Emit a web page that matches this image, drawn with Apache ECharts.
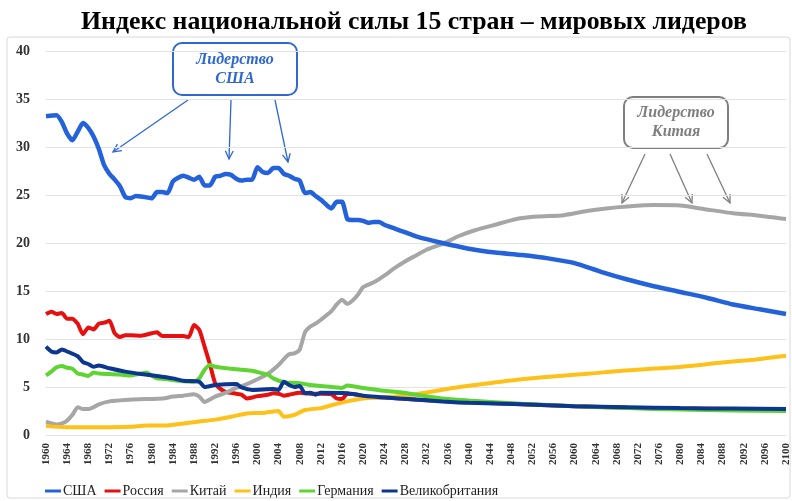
<!DOCTYPE html>
<html>
<head>
<meta charset="utf-8">
<script src="https://cdn.jsdelivr.net/npm/echarts@6/dist/echarts.min.js"></script>
<style>
  html, body { margin: 0; padding: 0; background: #fff; }
  #chart { width: 792px; height: 501px; }
</style>
</head>
<body>
<div id="chart"></div>
<script>
// данные: [год, индекс]
const usa = [[1960,33.2],[1962,33.3],[1963,32.6],[1964,31.4],[1965,30.7],[1966,31.6],[1967,32.5],[1968,32.0],[1969,31.1],[1970,29.8],[1971,28.1],[1972,27.2],[1973,26.6],[1974,25.9],[1975,24.8],[1976,24.65],[1977,24.9],[1978,24.85],[1979,24.75],[1980,24.65],[1981,25.3],[1982,25.3],[1983,25.2],[1984,26.4],[1985,26.8],[1986,27.0],[1987,26.8],[1988,26.6],[1989,26.9],[1990,26.0],[1991,26.0],[1992,26.9],[1993,27.0],[1994,27.2],[1995,27.1],[1996,26.7],[1997,26.5],[1998,26.6],[1999,26.6],[2000,27.9],[2001,27.4],[2002,27.3],[2003,27.8],[2004,27.8],[2005,27.2],[2006,27.0],[2007,26.7],[2008,26.5],[2009,25.2],[2010,25.3],[2011,24.9],[2012,24.5],[2013,24.0],[2014,23.6],[2015,24.3],[2016,24.3],[2017,22.5],[2018,22.4],[2019,22.4],[2020,22.3],[2021,22.1],[2022,22.2],[2023,22.2],[2024,21.9],[2026,21.5],[2028,21.1],[2030,20.7],[2032,20.4],[2035,20.0],[2040,19.4],[2045,19.0],[2050,18.75],[2055,18.4],[2060,17.9],[2065,17.0],[2070,16.2],[2075,15.5],[2080,14.9],[2085,14.3],[2090,13.6],[2095,13.1],[2100,12.6]];

const russia = [[1960,12.6],[1961,12.85],[1962,12.6],[1963,12.7],[1964,12.1],[1965,12.1],[1966,11.6],[1967,10.5],[1968,11.2],[1969,11.0],[1970,11.6],[1971,11.7],[1972,11.9],[1973,10.6],[1974,10.2],[1975,10.4],[1976,10.4],[1978,10.35],[1980,10.6],[1981,10.7],[1982,10.3],[1984,10.3],[1986,10.3],[1987,10.2],[1988,11.45],[1989,10.95],[1990,9.2],[1991,7.4],[1992,5.4],[1993,4.8],[1994,4.5],[1996,4.3],[1997,4.2],[1998,3.8],[1999,3.9],[2000,4.05],[2002,4.2],[2003,4.35],[2004,4.3],[2005,4.1],[2006,4.2],[2008,4.4],[2010,4.3],[2012,4.3],[2014,4.25],[2015,3.8],[2016,3.75],[2017,4.3],[2019,4.2],[2020,4.0],[2024,3.9],[2030,3.7],[2040,3.4],[2050,3.2],[2060,3.0],[2070,2.85],[2080,2.75],[2090,2.7],[2100,2.65]];

const china = [[1960,1.4],[1962,1.1],[1963,1.2],[1964,1.5],[1965,2.1],[1966,2.9],[1967,2.7],[1968,2.7],[1969,2.9],[1970,3.2],[1972,3.5],[1975,3.65],[1979,3.75],[1982,3.8],[1984,4.0],[1986,4.1],[1988,4.25],[1989,4.0],[1990,3.45],[1992,4.0],[1994,4.4],[1996,4.9],[1998,5.3],[2000,5.8],[2002,6.4],[2004,7.3],[2005,7.9],[2006,8.4],[2007,8.5],[2008,8.9],[2009,10.7],[2010,11.3],[2011,11.6],[2012,12.0],[2014,12.9],[2015,13.6],[2016,14.1],[2017,13.65],[2018,14.0],[2019,14.6],[2020,15.4],[2022,15.9],[2024,16.6],[2026,17.4],[2028,18.1],[2030,18.7],[2032,19.3],[2035,19.9],[2038,20.7],[2041,21.3],[2045,21.9],[2049,22.5],[2053,22.75],[2058,22.9],[2062,23.3],[2066,23.6],[2070,23.8],[2075,23.95],[2080,23.9],[2085,23.5],[2090,23.1],[2095,22.85],[2100,22.5]];

const india = [[1960,0.95],[1964,0.8],[1970,0.8],[1976,0.85],[1979,1.0],[1983,1.0],[1986,1.2],[1989,1.4],[1992,1.6],[1995,1.9],[1998,2.25],[2001,2.3],[2003,2.45],[2004,2.5],[2005,1.9],[2007,2.1],[2009,2.6],[2012,2.8],[2014,3.1],[2017,3.5],[2020,3.8],[2026,4.0],[2031,4.35],[2037,4.9],[2044,5.4],[2050,5.8],[2057,6.15],[2063,6.4],[2069,6.7],[2079,7.05],[2088,7.55],[2094,7.85],[2100,8.25]];

const germany = [[1960,6.2],[1961,6.6],[1962,7.05],[1963,7.2],[1964,7.0],[1965,6.9],[1966,6.4],[1967,6.3],[1968,6.15],[1969,6.5],[1970,6.4],[1972,6.35],[1974,6.3],[1976,6.2],[1978,6.4],[1979,6.5],[1980,6.2],[1981,5.9],[1983,5.8],[1985,5.65],[1988,5.55],[1989,5.9],[1990,6.8],[1991,7.3],[1992,7.1],[1995,6.9],[1997,6.8],[1999,6.7],[2001,6.4],[2002,6.3],[2003,5.9],[2005,5.5],[2008,5.4],[2010,5.2],[2014,5.0],[2016,4.9],[2017,5.15],[2020,4.9],[2024,4.6],[2027,4.45],[2030,4.2],[2035,3.8],[2040,3.6],[2050,3.25],[2060,3.0],[2070,2.8],[2080,2.65],[2090,2.55],[2100,2.5]];

const uk = [[1960,9.2],[1961,8.7],[1962,8.6],[1963,8.9],[1964,8.7],[1966,8.2],[1967,7.6],[1968,7.4],[1969,7.1],[1970,7.25],[1972,6.95],[1975,6.6],[1978,6.35],[1981,6.15],[1984,5.9],[1986,5.65],[1989,5.55],[1990,5.0],[1992,5.2],[1996,5.3],[1997,4.95],[1999,4.7],[2003,4.8],[2004,4.7],[2005,5.55],[2006,5.2],[2007,5.0],[2008,5.1],[2009,4.35],[2010,4.4],[2011,4.2],[2012,4.4],[2017,4.35],[2020,4.1],[2027,3.8],[2035,3.5],[2040,3.35],[2050,3.2],[2060,3.0],[2070,2.9],[2080,2.8],[2090,2.75],[2100,2.7]];

const names = ['США', 'Россия', 'Китай', 'Индия', 'Германия', 'Великобритания'];
const colors = ['#2462dc', '#e5100f', '#a6a6a6', '#fec11a', '#5fd432', '#0c3791'];
const seriesData = [usa, russia, china, india, germany, uk];
const widths = [4.5, 4, 4, 4, 4, 4];

const serif = '"Liberation Serif", "DejaVu Serif", serif';

// стрелка: линия + наконечник
const arrow = (x1, y1, x2, y2, color) => {
    const a = Math.atan2(y2 - y1, x2 - x1);
    const L = 9, w = 0.45;
    const p1 = [x2 - L * Math.cos(a - w), y2 - L * Math.sin(a - w)];
    const p2 = [x2 - L * Math.cos(a + w), y2 - L * Math.sin(a + w)];
    return [
        { type: 'line', shape: { x1, y1, x2, y2 }, style: { stroke: color, lineWidth: 1.3 } },
        { type: 'polyline', shape: { points: [p1, [x2, y2], p2] }, style: { stroke: color, lineWidth: 1.3, fill: null } }
    ];
};

const box = (x, y, w, h, color, text) => ([
    { type: 'rect', shape: { x, y, width: w, height: h, r: 9 }, style: { fill: '#fff', stroke: color, lineWidth: 2 } },
    { type: 'text', x: x + w / 2, y: y + h / 2, style: { text, fill: color, font: 'italic bold 16px ' + serif, align: 'center', verticalAlign: 'middle', lineHeight: 19 } }
]);

const blue = '#2f68cf', grey = '#7f7f7f';
const graphics = [
    { type: 'rect', shape: { x: 7, y: 37, width: 783, height: 461, r: 3 }, style: { fill: null, stroke: '#d9d9d9', lineWidth: 1 }, z: -1 },
    ...box(173, 43, 124, 52, blue, 'Лидерство\nСША'),
    ...arrow(188, 100, 113, 152, blue),
    ...arrow(231, 100, 229, 159, blue),
    ...arrow(275, 100, 288, 162, blue),
    ...box(624, 97, 104, 51, grey, 'Лидерство\nКитая'),
    ...arrow(645, 154, 622, 203, grey),
    ...arrow(670, 154, 692, 203, grey),
    ...arrow(707, 154, 730, 203, grey)
];

const chart = echarts.init(document.getElementById('chart'));
chart.setOption({
    animation: false,
    title: {
        text: 'Индекс национальной силы 15 стран – мировых лидеров',
        left: 76, top: 4,
        textStyle: { fontFamily: serif, fontWeight: 'bold', fontSize: 25.8, color: '#000' }
    },
    grid: { left: 46, right: 6, top: 51, bottom: 66 },
    legend: {
        left: 40, top: 479,
        icon: 'rect', itemWidth: 16, itemHeight: 3, itemGap: 8,
        textStyle: { fontFamily: serif, fontSize: 14, color: '#222', padding: [0, 0, 0, -3] },
        data: names
    },
    xAxis: {
        type: 'value', min: 1960, max: 2100, interval: 4,
        axisLine: { show: false }, axisTick: { show: false },
        splitLine: { show: false },
        axisLabel: { rotate: 90, fontFamily: serif, fontWeight: 'bold', fontSize: 11, color: '#333', margin: 8, formatter: v => String(v) }
    },
    yAxis: {
        type: 'value', min: 0, max: 40, interval: 5,
        axisLine: { show: false }, axisTick: { show: false },
        splitLine: { lineStyle: { color: '#e2e2e2', width: 1 } },
        axisLabel: { fontFamily: serif, fontWeight: 'bold', fontSize: 14, color: '#333', margin: 16 }
    },
    series: seriesData.map((d, i) => ({
        name: names[i], type: 'line', data: d,
        showSymbol: false, smooth: 0.2,
        lineStyle: { color: colors[i], width: widths[i] },
        itemStyle: { color: colors[i] },
        z: i === 0 ? 3 : 2
    })),
    graphic: graphics
});
</script>
</body>
</html>
